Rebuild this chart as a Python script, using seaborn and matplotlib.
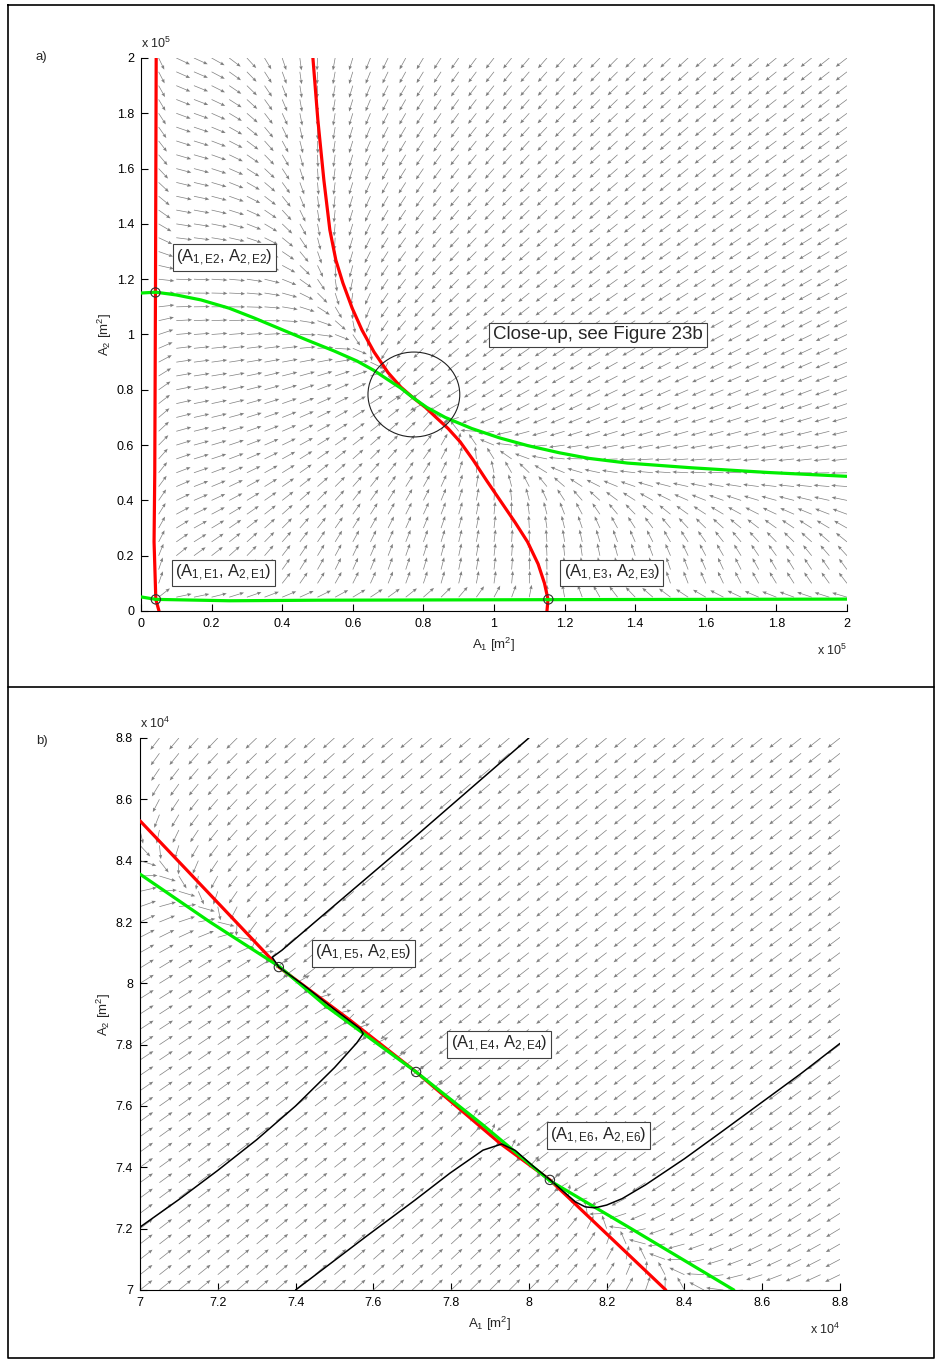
import numpy as np
import matplotlib
matplotlib.use("Agg")
import matplotlib.pyplot as plt
from matplotlib.patches import Ellipse
from matplotlib.lines import Line2D
import seaborn as sns

sns.set_style("ticks")
plt.rcParams['font.family'] = ['Liberation Sans', 'DejaVu Sans']
plt.rcParams['mathtext.fontset'] = 'custom'
plt.rcParams['mathtext.rm'] = 'Liberation Sans'
plt.rcParams['mathtext.it'] = 'Liberation Sans'
plt.rcParams['mathtext.default'] = 'regular'

# ---------------- panel a: whole phase plane (units of 1e5 m^2) ----------------
# A1-nullcline, main branch
red_a_A1 = [0.487, 0.501, 0.518, 0.535, 0.552, 0.572, 0.598, 0.626, 0.660, 0.700, 0.736, 0.771,
            0.806, 0.836, 0.870, 0.904, 0.941, 0.980, 1.020, 1.060, 1.095, 1.125, 1.143, 1.153, 1.150]
red_a_A2 = [2.000, 1.776, 1.559, 1.378, 1.269, 1.186, 1.096, 1.016, 0.937, 0.862, 0.810, 0.771,
            0.736, 0.700, 0.660, 0.612, 0.546, 0.470, 0.395, 0.320, 0.250, 0.170, 0.100, 0.042, 0.000]
# A1-nullcline, low branch near the A2 axis
red_lo_A1 = [0.043, 0.041, 0.039, 0.037, 0.042, 0.051]
red_lo_A2 = [2.000, 1.152, 0.500, 0.250, 0.042, 0.000]
# A2-nullcline, main branch
green_a_A1 = [0.000, 0.042, 0.100, 0.170, 0.250, 0.320, 0.395, 0.470, 0.546, 0.612, 0.660, 0.700,
              0.736, 0.771, 0.810, 0.862, 0.937, 1.016, 1.096, 1.186, 1.269, 1.378, 1.559, 1.776, 2.000]
green_a_A2 = [1.150, 1.153, 1.143, 1.125, 1.095, 1.060, 1.020, 0.980, 0.941, 0.904, 0.870, 0.836,
              0.806, 0.771, 0.736, 0.700, 0.660, 0.626, 0.598, 0.572, 0.552, 0.535, 0.518, 0.501, 0.487]
# A2-nullcline, low branch near the A1 axis
green_lo_A1 = [0.000, 0.042, 0.250, 0.500, 1.152, 2.000]
green_lo_A2 = [0.051, 0.042, 0.037, 0.039, 0.041, 0.043]

# equilibria shown in panel a
eq_a_names = ["E1", "E2", "E3"]
eq_a_A1 = [0.042, 0.041, 1.154]
eq_a_A2 = [0.042, 1.152, 0.042]
closeup_A1, closeup_A2 = 0.773, 0.783

# ---------------- panel b: close-up (units of 1e4 m^2) ----------------
red_b_A1 = [7.000, 7.200, 7.357, 7.540, 7.710, 7.926, 8.054, 8.200, 8.352]
red_b_A2 = [8.530, 8.263, 8.053, 7.880, 7.711, 7.478, 7.359, 7.183, 7.000]
green_b_A1 = [7.000, 7.180, 7.359, 7.478, 7.711, 7.880, 8.053, 8.263, 8.527]
green_b_A2 = [8.356, 8.200, 8.054, 7.926, 7.710, 7.540, 7.357, 7.200, 7.000]

eq_b_names = ["E5", "E4", "E6"]
eq_b_A1 = [7.357, 7.710, 8.054]
eq_b_A2 = [8.053, 7.711, 7.359]

# trajectories
traj1_A1 = [8.000, 7.700, 7.450, 7.365, 7.340, 7.357]
traj1_A2 = [8.800, 8.470, 8.200, 8.108, 8.085, 8.053]
traj2_A1 = [7.000, 7.100, 7.200, 7.300, 7.400, 7.500, 7.557, 7.574, 7.566, 7.500, 7.420, 7.357]
traj2_A2 = [7.205, 7.295, 7.390, 7.490, 7.600, 7.725, 7.805, 7.836, 7.852, 7.915, 7.995, 8.053]
traj3_A1 = [7.400, 7.583, 7.707, 7.797, 7.882, 7.930, 7.965, 8.010, 8.055]
traj3_A2 = [7.000, 7.176, 7.293, 7.381, 7.456, 7.476, 7.455, 7.405, 7.359]
traj4_A1 = [8.800, 8.700, 8.600, 8.500, 8.400, 8.300, 8.240, 8.200, 8.170, 8.145, 8.120, 8.090, 8.055]
traj4_A2 = [7.804, 7.706, 7.613, 7.520, 7.428, 7.343, 7.298, 7.277, 7.268, 7.271, 7.287, 7.320, 7.359]

ticks_a = [0, 0.2, 0.4, 0.6, 0.8, 1, 1.2, 1.4, 1.6, 1.8, 2]
ticks_b = [7, 7.2, 7.4, 7.6, 7.8, 8, 8.2, 8.4, 8.6, 8.8]

W, H = 935, 1359
fig = plt.figure(figsize=(W / 100, H / 100), dpi=100)


def fpx(x, y):
    return x / W, 1 - y / H


def interp_ext(x, xp, fp):
    xp = np.asarray(xp, float)
    fp = np.asarray(fp, float)
    order = np.argsort(xp)
    xp, fp = xp[order], fp[order]
    y = np.interp(x, xp, fp)
    s0 = (fp[1] - fp[0]) / (xp[1] - xp[0])
    s1 = (fp[-1] - fp[-2]) / (xp[-1] - xp[-2])
    y = np.where(x < xp[0], fp[0] + s0 * (x - xp[0]), y)
    y = np.where(x > xp[-1], fp[-1] + s1 * (x - xp[-1]), y)
    return y


def style_axes(ax, ticks, lim, exp):
    ax.set_xlim(*lim)
    ax.set_ylim(*lim)
    ax.set_xticks(ticks)
    ax.set_yticks(ticks)
    ax.set_xticklabels([f"{t:g}" for t in ticks])
    ax.set_yticklabels([f"{t:g}" for t in ticks])
    sns.despine(ax=ax)
    ax.tick_params(direction='in', length=5, width=0.8, labelsize=9, pad=5, colors='black')
    for s in ("left", "bottom"):
        ax.spines[s].set_linewidth(0.8)
        ax.spines[s].set_color('black')
    ax.set_xlabel(r"A$_1$ [m$^2$]", fontsize=9.5, labelpad=4)
    ax.set_ylabel(r"A$_2$ [m$^2$]", fontsize=9.5, labelpad=2)
    ax.text(0.0, 1.012, rf"x 10$^{exp}$", transform=ax.transAxes, fontsize=9, ha='left', va='bottom')
    ax.text(1.0, -0.058, rf"x 10$^{exp}$", transform=ax.transAxes, fontsize=9, ha='right', va='top')


def draw_field(ax, U, V, X, Y, step):
    mag = np.hypot(U, V)
    mag[mag == 0] = 1
    L = 0.9 * step
    ax.quiver(X, Y, U / mag * L, V / mag * L, angles='xy', scale_units='xy', scale=1,
              color='#808080', units='dots', width=0.7, headwidth=5, headlength=6,
              headaxislength=5.5, zorder=1)


def label_box(ax, text, xy, off, size=12):
    ax.annotate(text, xy=xy, xytext=off, textcoords='offset points', fontsize=size,
                ha='left', va='center', zorder=6,
                bbox=dict(boxstyle='square,pad=0.2', fc='white', ec='#404040', lw=0.8))


# ---------------- panel a ----------------
ax1 = fig.add_axes([141 / W, 1 - 611 / H, 706 / W, 553 / H])
step_a = 0.05
ga = np.arange(0, 2 + 1e-9, step_a)
X, Y = np.meshgrid(ga, ga)
h_main = interp_ext(Y, red_a_A2, red_a_A1)
h_low = interp_ext(Y, red_lo_A2, red_lo_A1)
g_main = interp_ext(X, green_a_A1, green_a_A2)
g_low = interp_ext(X, green_lo_A1, green_lo_A2)
# per-area growth: distance to the upper nullcline, sign flipped below the lower branch
d_near, expo = 0.1, 0.7
U = (h_main - X) * np.tanh((X - h_low) / d_near) / (X + 0.02) ** expo
V = (g_main - Y) * np.tanh((Y - g_low) / d_near) / (Y + 0.02) ** expo
draw_field(ax1, U, V, X, Y, step_a)

for xs, ys, c in [(red_lo_A1, red_lo_A2, '#ff0000'), (red_a_A1, red_a_A2, '#ff0000'),
                  (green_lo_A1, green_lo_A2, '#00ee00'), (green_a_A1, green_a_A2, '#00ee00')]:
    sns.lineplot(x=xs, y=ys, sort=False, estimator=None, color=c, lw=2.3, ax=ax1, zorder=3)
sns.scatterplot(x=eq_a_A1, y=eq_a_A2, s=45, facecolor='none', edgecolor='#303030', linewidth=0.8,
                ax=ax1, zorder=5)
ax1.add_patch(Ellipse((closeup_A1, closeup_A2), 0.26, 0.307, fc='none', ec='#202020', lw=0.8, zorder=4))
style_axes(ax1, ticks_a, (0, 2), 5)

offs_a = {"E1": (14, 19), "E2": (15, 25), "E3": (11, 19)}
for n, a1, a2 in zip(eq_a_names, eq_a_A1, eq_a_A2):
    label_box(ax1, rf"(A$_{{1,{n}}}$, A$_{{2,{n}}}$)", (a1, a2), offs_a[n])
label_box(ax1, "Close-up, see Figure 23b", (closeup_A1, closeup_A2), (57, 43), size=13.5)

# ---------------- panel b ----------------
ax2 = fig.add_axes([140 / W, 1 - 1290 / H, 700 / W, 552 / H])
step_b = 0.05
gb = np.arange(7, 8.8 + 1e-9, step_b)
X, Y = np.meshgrid(gb, gb)
hb = interp_ext(Y, red_b_A2, red_b_A1)
gbn = interp_ext(X, green_b_A1, green_b_A2)
draw_field(ax2, (hb - X) / X ** expo, (gbn - Y) / Y ** expo, X, Y, step_b)

sns.lineplot(x=red_b_A1, y=red_b_A2, sort=False, estimator=None, color='#ff0000', lw=2.3, ax=ax2, zorder=3)
sns.lineplot(x=green_b_A1, y=green_b_A2, sort=False, estimator=None, color='#00ee00', lw=2.3, ax=ax2, zorder=3)
for xs, ys in [(traj1_A1, traj1_A2), (traj2_A1, traj2_A2), (traj3_A1, traj3_A2), (traj4_A1, traj4_A2)]:
    sns.lineplot(x=xs, y=ys, sort=False, estimator=None, color='black', lw=1.1, ax=ax2, zorder=4)
sns.scatterplot(x=eq_b_A1, y=eq_b_A2, s=45, facecolor='none', edgecolor='#303030', linewidth=0.8,
                ax=ax2, zorder=5)
style_axes(ax2, ticks_b, (7, 8.8), 4)
offs_b = {"E5": (26, 10), "E4": (25, 20), "E6": (0, 32)}
for n, a1, a2 in zip(eq_b_names, eq_b_A1, eq_b_A2):
    label_box(ax2, rf"(A$_{{1,{n}}}$, A$_{{2,{n}}}$)", (a1, a2), offs_b[n])

# panel letters, frame and divider
fig.text(*fpx(36, 57), "a)", fontsize=9.5, ha='left', va='center')
fig.text(*fpx(36, 741), "b)", fontsize=9.5, ha='left', va='center')
frame = [(8, 5), (934, 5), (934, 1358), (8, 1358), (8, 5)]
fig.add_artist(Line2D([fpx(*p)[0] for p in frame], [fpx(*p)[1] for p in frame], color='black', lw=1.2))
fig.add_artist(Line2D([fpx(8, 687)[0], fpx(934, 687)[0]], [fpx(8, 687)[1]] * 2, color='black', lw=1.2))

fig.savefig("out.png", dpi=100, facecolor='white')
